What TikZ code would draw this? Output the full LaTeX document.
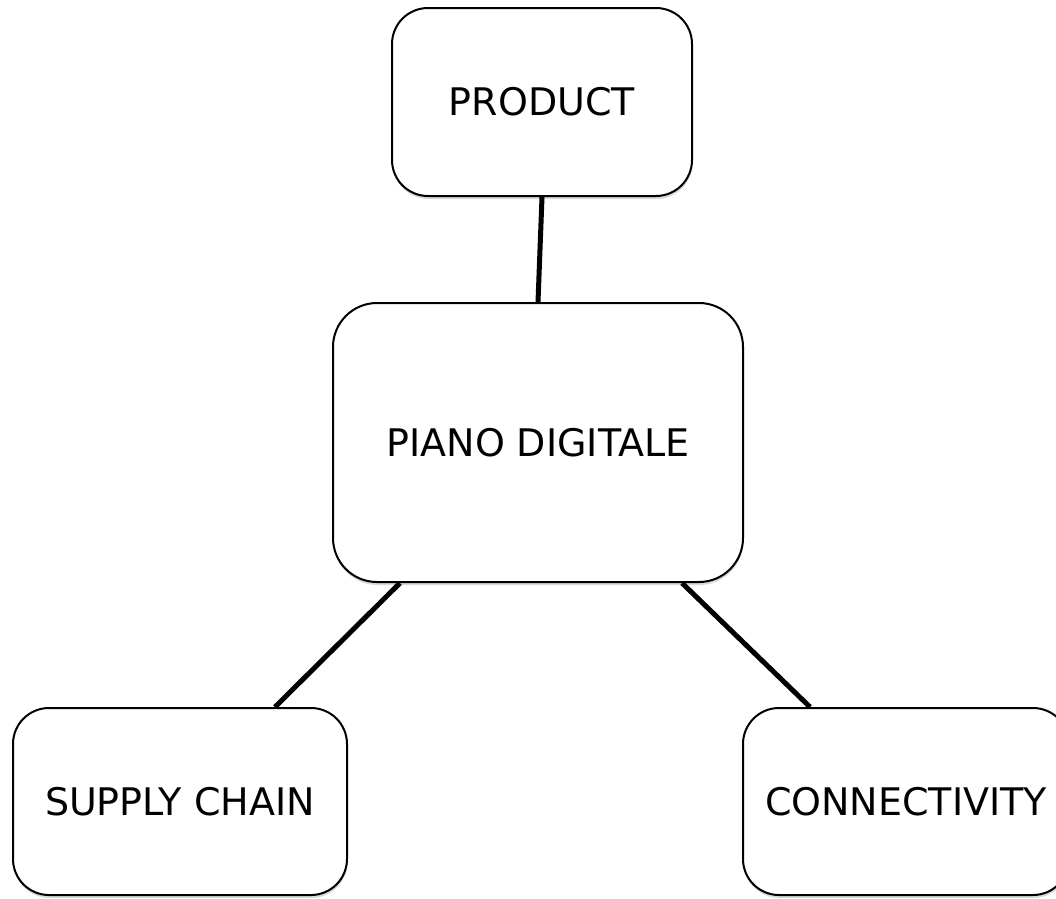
\documentclass[tikz,border=0pt]{standalone}
\usepackage{fontspec}
\setmainfont{DejaVu Sans}
\usetikzlibrary{shadows}

\begin{document}
\begin{tikzpicture}[x=1pt,y=-1pt,
  topic/.style={draw,line width=2pt,rounded corners=36pt,fill=white,inner sep=0pt,
    font=\fontsize{38}{45}\selectfont,
    drop shadow={opacity=0.3,shadow xshift=0.5pt,shadow yshift=-3pt}},
  link/.style={line width=5pt}]
\useasboundingbox (0,0) rectangle (1056,898);
\node[topic,minimum width=300pt,minimum height=188pt] (product) at (542,102) {PRODUCT};
\node[topic,rounded corners=44pt,minimum width=410pt,minimum height=279pt] (piano) at (538,442.5) {PIANO DIGITALE};
\node[topic,minimum width=334pt,minimum height=187pt] (supply) at (180,801.5) {SUPPLY CHAIN};
\node[topic,minimum width=326pt,minimum height=187pt] (connect) at (906,801.5) {CONNECTIVITY};

\draw[link] (product.south) -- (piano.north);
\draw[link] ([xshift=-138pt]piano.south) -- ([xshift=95pt]supply.north);
\draw[link] ([xshift=144pt]piano.south) -- ([xshift=-96pt]connect.north);
\end{tikzpicture}
\end{document}
